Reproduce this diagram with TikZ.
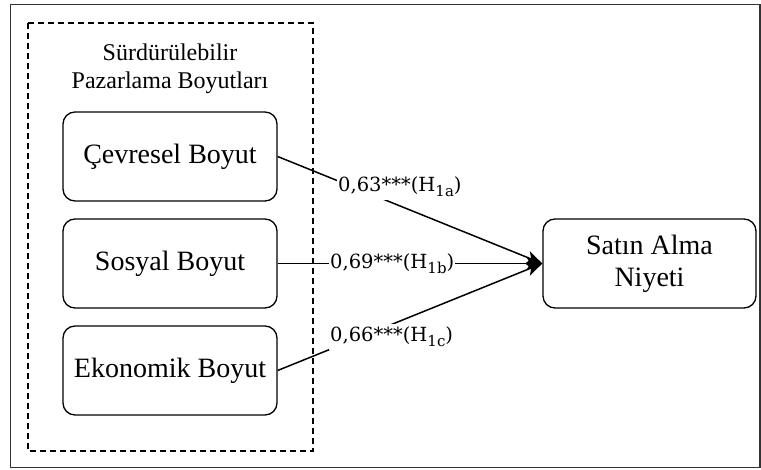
\documentclass[tikz,border=0pt]{standalone}
\usepackage{fontspec}
\setmainfont{Liberation Serif}
\newfontfamily\lblfont{DejaVu Serif}
\usetikzlibrary{arrows.meta}
\newcommand{\hsub}[1]{\raisebox{-5pt}{\fontsize{15}{15}\selectfont #1}}
\begin{document}
\begin{tikzpicture}[x=1pt,y=-1pt,
  dimbox/.style={draw,line width=1.3pt,rounded corners=12pt,minimum width=214pt,minimum height=89pt,inner sep=0pt,font=\fontsize{28}{32}\selectfont,align=center},
  conn/.style={line width=1.5pt,-{Stealth[length=16pt,width=13pt,inset=4pt]}},
  lbl/.style={fill=white,inner xsep=1pt,inner ysep=3pt,font=\lblfont\fontsize{19.5}{22}\selectfont}]
\useasboundingbox (0,0) rectangle (761,470);
\draw[line width=1.8pt,draw=black!80] (10.5,4.5) rectangle (760,467.5);
\draw[line width=1.2pt,dashed,dash pattern=on 6pt off 4pt] (28,23) rectangle (313,451);
\node[font=\fontsize{24}{28}\selectfont,align=center] (title) at (170,69) {Sürdürülebilir\\Pazarlama Boyutları};
\node[dimbox] (cev) at (170,156.5) {Çevresel Boyut};
\node[dimbox] (sos) at (170,263.5) {Sosyal Boyut};
\node[dimbox] (eko) at (170,370.5) {Ekonomik Boyut};
\node[dimbox,minimum width=213pt] (sat) at (649.5,263.5) {Satın Alma\\Niyeti};
\draw[conn] (cev.east) -- (sat.west);
\draw[conn] (sos.east) -- (sat.west);
\draw[conn] (eko.east) -- (sat.west);
\node[lbl,anchor=west] (la) at (337,187) {0,63***(H\hsub{1a})};
\node[lbl,anchor=west] (lb) at (329,264) {0,69***(H\hsub{1b})};
\node[lbl,anchor=west] (lc) at (329,337) {0,66***(H\hsub{1c})};
\end{tikzpicture}
\end{document}
